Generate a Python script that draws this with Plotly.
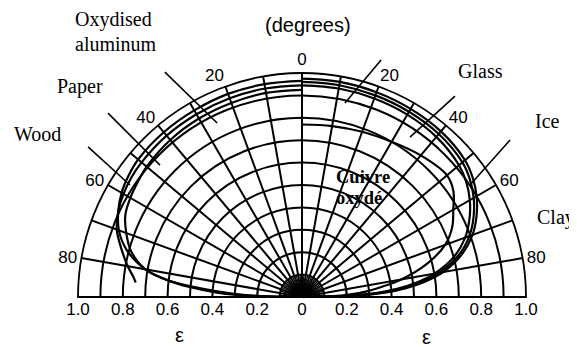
import plotly.graph_objects as go

# ---------------- data (directional emissivity vs polar angle, degrees) ----------------
theta_right = [0, 10, 20, 30, 40, 50, 55, 60, 65, 70, 75, 80, 83, 85, 87, 88.5, 90]
ice   = [0.975, 0.975, 0.973, 0.97, 0.965, 0.95, 0.93, 0.90, 0.86, 0.81, 0.74, 0.64, 0.55, 0.47, 0.37, 0.24, 0.0]
glass = [0.96, 0.96, 0.958, 0.955, 0.95, 0.935, 0.915, 0.885, 0.845, 0.795, 0.725, 0.62, 0.53, 0.45, 0.35, 0.22, 0.0]
clay  = [0.945, 0.945, 0.943, 0.94, 0.933, 0.915, 0.895, 0.865, 0.825, 0.775, 0.705, 0.60, 0.51, 0.43, 0.33, 0.20, 0.0]
copper_oxide = [0.77, 0.775, 0.785, 0.80, 0.825, 0.845, 0.825, 0.78, 0.74, 0.68, 0.58, 0.45, 0.35, 0.29, 0.21, 0.14, 0.0]

theta_left = [0, -10, -20, -30, -40, -50, -55, -60, -65, -70, -75, -80, -83, -85, -87, -88.5, -90]
wood  = [0.965, 0.965, 0.965, 0.962, 0.96, 0.955, 0.945, 0.93, 0.905, 0.87, 0.81, 0.71, 0.60, 0.50, 0.38, 0.24, 0.0]
paper = [0.925, 0.925, 0.922, 0.92, 0.915, 0.905, 0.895, 0.885, 0.87, 0.835, 0.79, 0.71, 0.60, 0.46, 0.32, 0.20, 0.0]
theta_alu = [0, -10, -20, -30, -40, -50, -55, -60, -65, -70, -75, -80, -83, -85]
oxidised_aluminum = [0.945, 0.945, 0.944, 0.942, 0.94, 0.935, 0.93, 0.92, 0.905, 0.88, 0.835, 0.79, 0.76, 0.745]

# angular ticks (degrees measured from the normal; negative = left half)
ang_tickvals = [-90, -80, -70, -60, -50, -40, -30, -20, -10, 0, 10, 20, 30, 40, 50, 60, 70, 80, 90]
ang_ticktext = ["", "80", "", "60", "", "40", "", "20", "", "0", "", "20", "", "40", "", "60", "", "80", ""]

# emissivity scale along the base line
eps_tickvals = [-1.0, -0.8, -0.6, -0.4, -0.2, 0.0, 0.2, 0.4, 0.6, 0.8, 1.0]
eps_ticktext = ["1.0", "0.8", "0.6", "0.4", "0.2", "0", "0.2", "0.4", "0.6", "0.8", "1.0"]
ring_vals = [0.1, 0.2, 0.3, 0.4, 0.5, 0.6, 0.7, 0.8, 0.9, 1.0]

# ---------------- figure ----------------
fig = go.Figure()

# short extra grid spokes crowding the pole (every 5 degrees, inside the first ring)
fan_r, fan_t = [], []
for a in range(-85, 90, 10):
    fan_r += [0, 0.1, None]
    fan_t += [a, a, None]
fig.add_trace(go.Scatterpolar(r=fan_r, theta=fan_t, mode="lines", line=dict(color="black", width=1.2),
                              showlegend=False, hoverinfo="skip", connectgaps=False))

line_style = dict(color="black", width=2.2)
for th, r in [(theta_right, ice), (theta_right, glass), (theta_right, clay),
              (theta_right, copper_oxide), (theta_left, wood), (theta_left, paper),
              (theta_alu, oxidised_aluminum)]:
    fig.add_trace(go.Scatterpolar(r=r, theta=th, mode="lines", line=dict(shape="spline", **line_style),
                                  showlegend=False, hoverinfo="skip"))

# invisible trace to carry the cartesian emissivity axis below the half disc
fig.add_trace(go.Scatter(x=[eps_tickvals[0], eps_tickvals[-1]], y=[0, 0], mode="markers",
                         marker=dict(opacity=0), showlegend=False, hoverinfo="skip"))

sans = "Liberation Sans, Arial, sans-serif"
serif = "Liberation Serif, Times New Roman, serif"

# the page body adds an 8px margin, so the figure is sized to the visible area
fig.update_layout(
    width=569, height=339,
    margin=dict(l=70, r=51, t=65, b=50),
    paper_bgcolor="white", plot_bgcolor="rgba(0,0,0,0)",
    polar=dict(
        domain=dict(x=[0, 1], y=[0, 1]),
        sector=[0, 180], bgcolor="white",
        angularaxis=dict(rotation=90, direction="clockwise", tickmode="array",
                         tickvals=ang_tickvals, ticktext=ang_ticktext, ticks="",
                         showgrid=True, gridcolor="black", gridwidth=1.6,
                         showline=True, linecolor="black", linewidth=1.8,
                         tickfont=dict(family=sans, size=17, color="black")),
        radialaxis=dict(range=[0, 1], tickmode="array", tickvals=ring_vals,
                        showticklabels=False, ticks="", showline=False,
                        showgrid=True, gridcolor="black", gridwidth=1.6),
    ),
    xaxis=dict(range=[-1, 1], domain=[0, 1], tickmode="array", tickvals=eps_tickvals,
               ticktext=eps_ticktext, showgrid=False, zeroline=False, showline=False,
               ticks="", tickfont=dict(family=sans, size=17, color="black"), fixedrange=True),
    yaxis=dict(range=[0, 1], domain=[0, 1], visible=False, fixedrange=True),
)

def px(ex):  # emissivity-plane x -> paper x
    return (ex + 1) / 2

def note(text, x, y, font, xanchor="center", size=20, bold=False):
    fig.add_annotation(x=px(x), y=y, xref="paper", yref="paper",
                       text=f"<b>{text}</b>" if bold else text,
                       showarrow=False, xanchor=xanchor, yanchor="middle",
                       font=dict(family=font, size=size, color="black"))

note("(degrees)", 0.025, 1.215, sans, size=20)
note("Oxydised", -1.022, 1.237, serif, xanchor="left")
note("aluminum", -1.022, 1.129, serif, xanchor="left")
note("Paper", -1.103, 0.94, serif, xanchor="left")
note("Wood", -1.295, 0.728, serif, xanchor="left")
note("Glass", 0.6875, 1.009, serif, xanchor="left")
note("Ice", 1.031, 0.786, serif, xanchor="left")
note("Clay", 1.04, 0.357, serif, xanchor="left")
note("Cuivre", 0.272, 0.536, serif, size=18.5, bold=True)
note("oxydé", 0.256, 0.44, serif, size=18.5, bold=True)
note("ε", -0.545, -0.17, sans, size=20)
note("ε", 0.554, -0.18, sans, size=20)

# leader lines from the original figure labels
leaders = [(-0.612, 1.004, -0.379, 0.777), (-0.866, 0.821, -0.634, 0.589),
           (-0.955, 0.67, -0.768, 0.50), (0.353, 1.058, 0.192, 0.866),
           (0.683, 0.897, 0.482, 0.714), (0.929, 0.701, 0.75, 0.50)]
for x0, y0, x1, y1 in leaders:
    fig.add_shape(type="line", xref="paper", yref="paper", x0=px(x0), y0=y0, x1=px(x1), y1=y1,
                  line=dict(color="black", width=1.6), layer="above")

fig.write_html("out.html")
